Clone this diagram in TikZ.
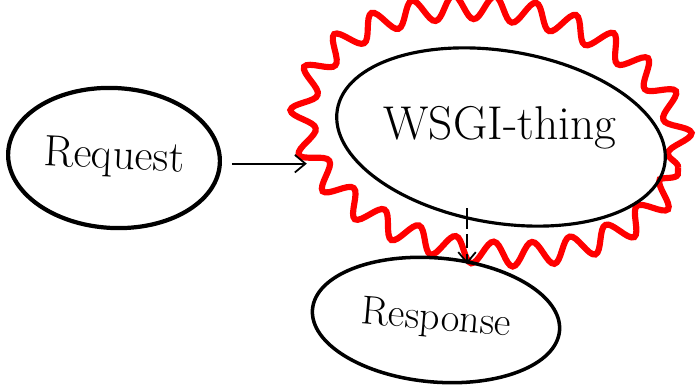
\documentclass[tikz,border=0pt]{standalone}
\usepackage{xcolor}
\usepackage{tikz}
\usetikzlibrary{positioning, shapes.geometric, decorations.pathmorphing, arrows.meta}
\definecolor{glowred}{rgb}{1.0, 0.0, 0.0}
\tikzset{
    blob/.style={
        draw, ellipse, inner sep = 0pt,
        line width = 2.4pt
    },
    glow/.style = {
        draw = glowred, line width = 3.5pt,
        decorate, decoration = {snake, amplitude = 0.24cm, segment length = 0.8cm}
    },
    line/.style = {-{Straight Barb[length=6pt, width=10pt]}, line width = 1pt}
}
\begin{document}
\begin{tikzpicture}[x=0.02cm, y=-0.02cm]

    % Page
    \useasboundingbox (0,0) rectangle (699,388);

    % Red glow round the WSGI thing
    \path[glow, rotate around = {-8:(490,141)}] (490,141) ellipse [x radius = 3.8cm, y radius = 2.44cm];

    % Nodes
    \node[blob, minimum width = 4.24cm, minimum height = 2.8cm, rotate = -3,
        font = \fontsize{25}{30}\selectfont] (request) at (114,158) {Request};
    \node[blob, line width = 1.8pt, minimum width = 6.64cm, minimum height = 3.44cm, rotate = -9.5] (wsgi) at (501,137) {};
    \node[font = \fontsize{27}{32}\selectfont] (wsgilabel) at (500,128) {WSGI-thing};
    \node[blob, line width = 2pt, minimum width = 4.96cm, minimum height = 2.48cm, rotate = -5,
        font = \fontsize{23}{28}\selectfont] (response) at (436,320) {Response};

    % Connectors
    \coordinate (drop) at (467,208);
    \coordinate (land) at (467,264);
    \draw[line, shorten < = 0.2cm, shorten > = 0.58cm] (request.east) -- (request.east -| wsgi.west);
    \draw[line, dash pattern = on 12pt off 3pt on 8pt off 3pt] (drop) -- (land);

\end{tikzpicture}
\end{document}
